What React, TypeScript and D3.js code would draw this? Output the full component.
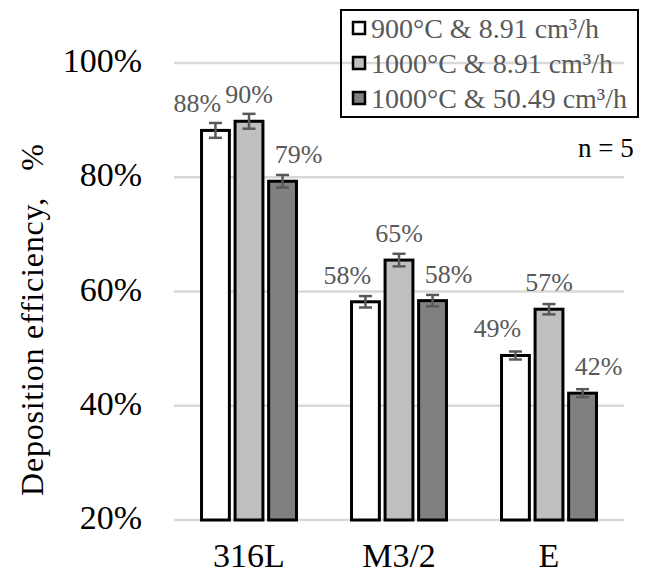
import React from "react";
import * as d3 from "d3";

const categories = ["316L", "M3/2", "E"];
const seriesNames = ["900°C & 8.91 cm³/h", "1000°C & 8.91 cm³/h", "1000°C & 50.49 cm³/h"];
const values900_891 = [88.2, 58.2, 48.8];
const values1000_891 = [89.8, 65.5, 56.9];
const values1000_5049 = [79.3, 58.4, 42.2];
const err900_891 = [1.3, 1.0, 0.7];
const err1000_891 = [1.3, 1.1, 0.9];
const err1000_5049 = [1.1, 1.0, 0.7];
const labels900_891 = ["88%", "58%", "49%"];
const labels1000_891 = ["90%", "65%", "57%"];
const labels1000_5049 = ["79%", "58%", "42%"];
const yTicks = [20, 40, 60, 80, 100];

const fills = ["#ffffff", "#bfbfbf", "#808080"];
const labelShift = [-18, 0, 16];
const FONT = "'Liberation Serif', 'Times New Roman', serif";

export default function App() {
  const W = 649, H = 573;
  const left = 174, right = 624, top = 63, bottom = 520;
  const y = d3.scaleLinear().domain([20, 100]).range([bottom, top]);
  const x0 = d3.scaleBand<string>().domain(categories).range([left, right]).padding(0);
  const x1 = d3.scaleBand<number>().domain([0, 1, 2]).range([0, x0.bandwidth()]).paddingInner(0.17).paddingOuter(0.82);
  const vals = [values900_891, values1000_891, values1000_5049];
  const errs = [err900_891, err1000_891, err1000_5049];
  const labs = [labels900_891, labels1000_891, labels1000_5049];
  const bw = x1.bandwidth();

  return (
    <svg width={W} height={H} style={{ position: "absolute", left: 0, top: 0, background: "#fff" }} fontFamily={FONT}>
      {yTicks.map((t) => (
        <g key={t}>
          <line x1={left} x2={right} y1={y(t)} y2={y(t)} stroke="#d9d9d9" strokeWidth={2.5} />
          <text x={142} y={y(t) + 9} textAnchor="end" fontSize={34} fill="#000">{t}%</text>
        </g>
      ))}
      {categories.map((c, ci) => (
        <g key={c}>
          {vals.map((sv, si) => {
            const bx = (x0(c) as number) + (x1(si) as number);
            const v = sv[ci];
            const e = errs[si][ci];
            const cx = bx + bw / 2;
            return (
              <g key={si}>
                <rect x={bx} y={y(v)} width={bw} height={y(20) - y(v)} fill={fills[si]} stroke="#000" strokeWidth={3} />
                <line x1={cx} x2={cx} y1={y(v + e)} y2={y(v - e)} stroke="#595959" strokeWidth={2.5} />
                <line x1={cx - 6.5} x2={cx + 6.5} y1={y(v + e)} y2={y(v + e)} stroke="#595959" strokeWidth={2.5} />
                <line x1={cx - 6.5} x2={cx + 6.5} y1={y(v - e)} y2={y(v - e)} stroke="#595959" strokeWidth={2.5} />
                <text x={cx + labelShift[si]} y={y(v) - 18} textAnchor="middle" fontSize={26} fill="#595959">{labs[si][ci]}</text>
              </g>
            );
          })}
          <text x={(x0(c) as number) + x0.bandwidth() / 2} y={567} textAnchor="middle" fontSize={34} fill="#000">{c}</text>
        </g>
      ))}
      <text transform={`translate(43, 320) rotate(-90)`} textAnchor="middle" fontSize={32} fill="#000" textLength={352} lengthAdjust="spacing" style={{ whiteSpace: "pre" }}>Deposition efficiency,   %</text>
      <text x={578} y={157} fontSize={27} fill="#000">n = 5</text>
      <g>
        <rect x={341} y={10} width={297} height={107} fill="none" stroke="#000" strokeWidth={2} />
        {seriesNames.map((s, i) => (
          <g key={s}>
            <rect x={353} y={28 + i * 35 - 6} width={12} height={12} fill={fills[i]} stroke="#000" strokeWidth={2.5} />
            <text x={371} y={28 + i * 35} dy="0.35em" fontSize={28} fill="#595959">{s}</text>
          </g>
        ))}
      </g>
    </svg>
  );
}
